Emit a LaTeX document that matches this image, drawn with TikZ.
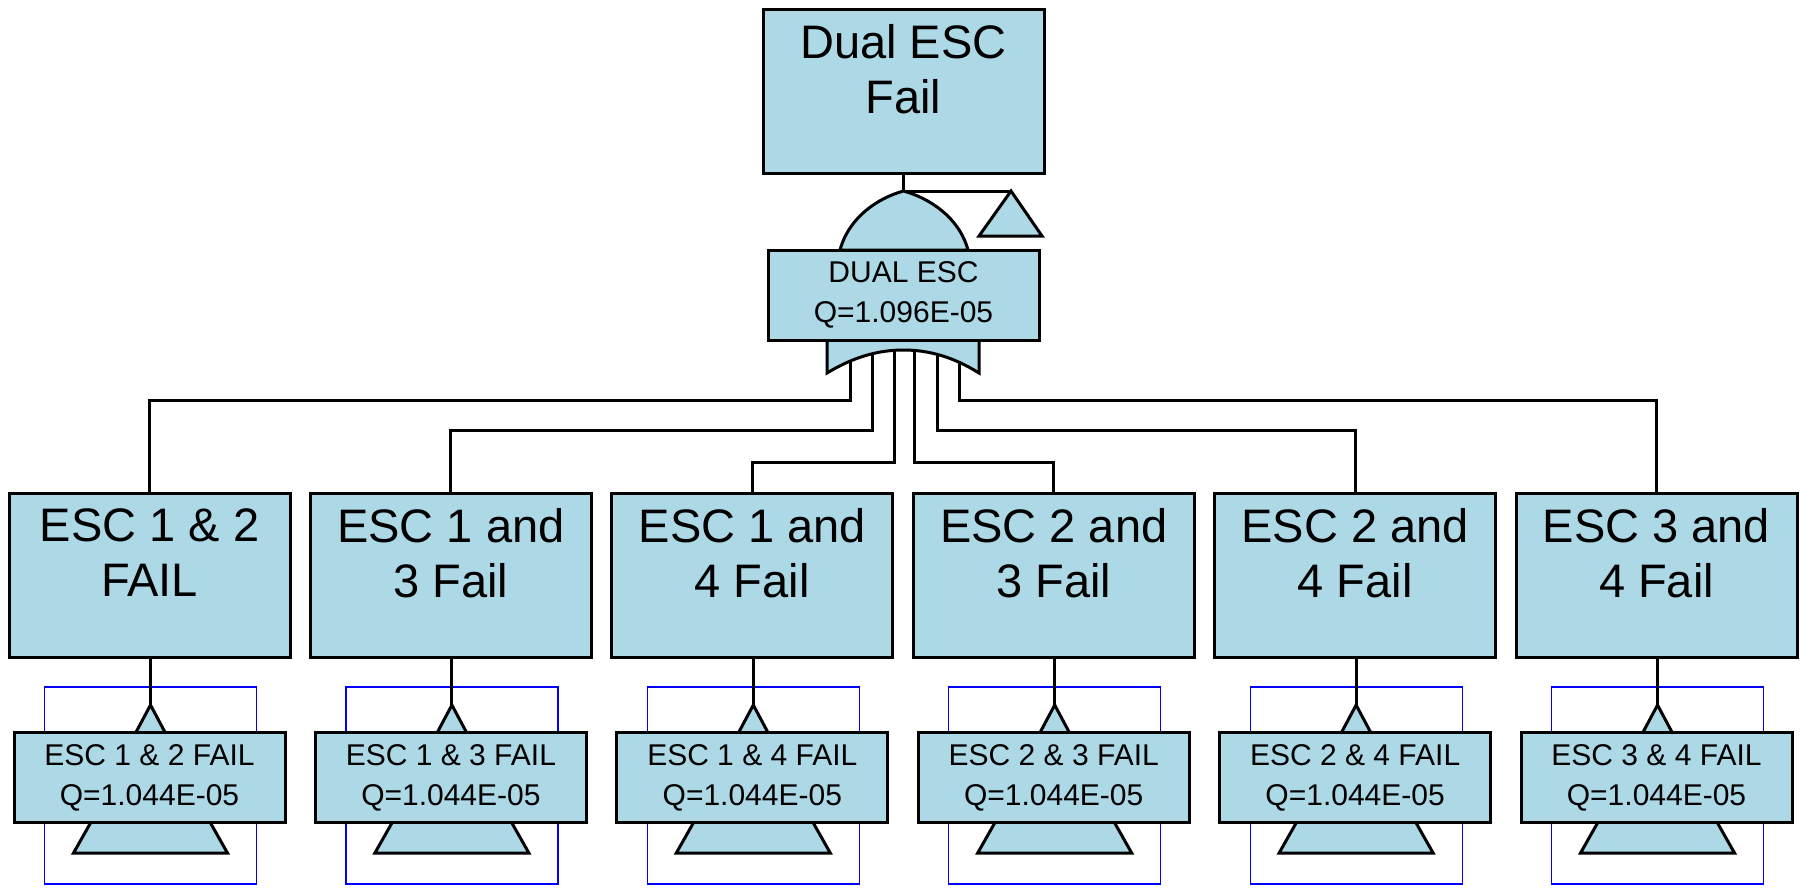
\documentclass[tikz,border=0pt]{standalone}
\usepackage{fontspec}
\setmainfont{Liberation Sans}
\usetikzlibrary{backgrounds}
\definecolor{ftblue}{RGB}{173,216,230}
\tikzset{
  evbox/.style={draw, fill=ftblue, line width=1.5pt, minimum width=140.5pt, minimum height=82pt, inner sep=0pt},
  bigtxt/.style={font=\fontsize{23.5}{27.5}\selectfont, align=center, anchor=north, inner sep=0pt},
  gatebox/.style={draw, fill=ftblue, line width=1.5pt, minimum width=135.5pt, minimum height=45pt, inner sep=0pt, align=center, font=\fontsize{15}{20}\selectfont},
  wire/.style={line width=1.5pt},
  xfer/.style={draw, fill=ftblue, line width=1.5pt, line join=miter},
  xframe/.style={draw=blue, line width=0.6pt},
}
\begin{document}
\begin{tikzpicture}[x=0.5pt, y=-0.5pt]
\useasboundingbox (0,0) rectangle (1802,891);
% top event and OR gate
\node[evbox] (top) at (903.5,91.5) {};
\node[bigtxt] (topT) at ([yshift=-8pt]top.north) {Dual ESC\\Fail};
\node[gatebox] (gate) at (903.5,295) {DUAL ESC\\Q=1.096E-05};
\coordinate (gtop) at (903.5,191);
\coordinate (tri) at (1011,191);
\begin{scope}[on background layer]
  \draw[wire] (top.south) -- (gtop);
  \draw[wire] (gtop) -- (tri);
  \draw[xfer] (tri) -- ++(31,45) -- ++(-63,0) -- cycle;
  \draw[xfer] (840,250) .. controls (849,217) and (878,198) .. (gtop)
    .. controls (929,198) and (959,217) .. (968,250) -- cycle;
\end{scope}
% events and transfers
\foreach \i/\x/\dx/\lev/\txt/\sub in {
  1/149.5/-26.75/400/{ESC 1 \& 2\\FAIL}/{ESC 1 \& 2 FAIL},
  2/450.9/-15.75/430/{ESC 1 and\\3 Fail}/{ESC 1 \& 3 FAIL},
  3/752.3/-4.75/462/{ESC 1 and\\4 Fail}/{ESC 1 \& 4 FAIL},
  4/1053.7/5.25/462/{ESC 2 and\\3 Fail}/{ESC 2 \& 3 FAIL},
  5/1355.1/16.75/430/{ESC 2 and\\4 Fail}/{ESC 2 \& 4 FAIL},
  6/1656.5/27.75/400/{ESC 3 and\\4 Fail}/{ESC 3 \& 4 FAIL}}{
  \node[evbox] (ev\i) at (\x,575.5) {};
  \node[bigtxt] (ev\i T) at ([yshift=-8pt]ev\i.north) {\txt};
  \node[gatebox] (be\i) at (\x,777.5) {\sub\\Q=1.044E-05};
  \coordinate (g\i) at ([xshift=\dx pt]gate.south);
  \coordinate (t\i) at (\x+1,705);
  \begin{scope}[on background layer]
    \draw[wire] (ev\i.north) |- (g\i |- 0,\lev) -- (g\i);
    \draw[xframe] (\x-105,687) rectangle (\x+107,884);
    \draw[wire] (ev\i.south -| t\i) -- (t\i);
    \draw[xfer] (t\i) -- ++(16,30) -- ++(-32,0) -- cycle;
    \draw[xfer] (\x-54.5,815) -- (\x-76,853) -- (\x+78,853) -- (\x+56.5,815) -- cycle;
  \end{scope}
}
% gate bottom
\begin{scope}[on background layer]
  \draw[xfer] (827,341) -- (827,373) .. controls (855,356) and (880,350) .. (903.5,350)
    .. controls (927,350) and (952,356) .. (979,373) -- (979,341);
\end{scope}
\end{tikzpicture}
\end{document}
